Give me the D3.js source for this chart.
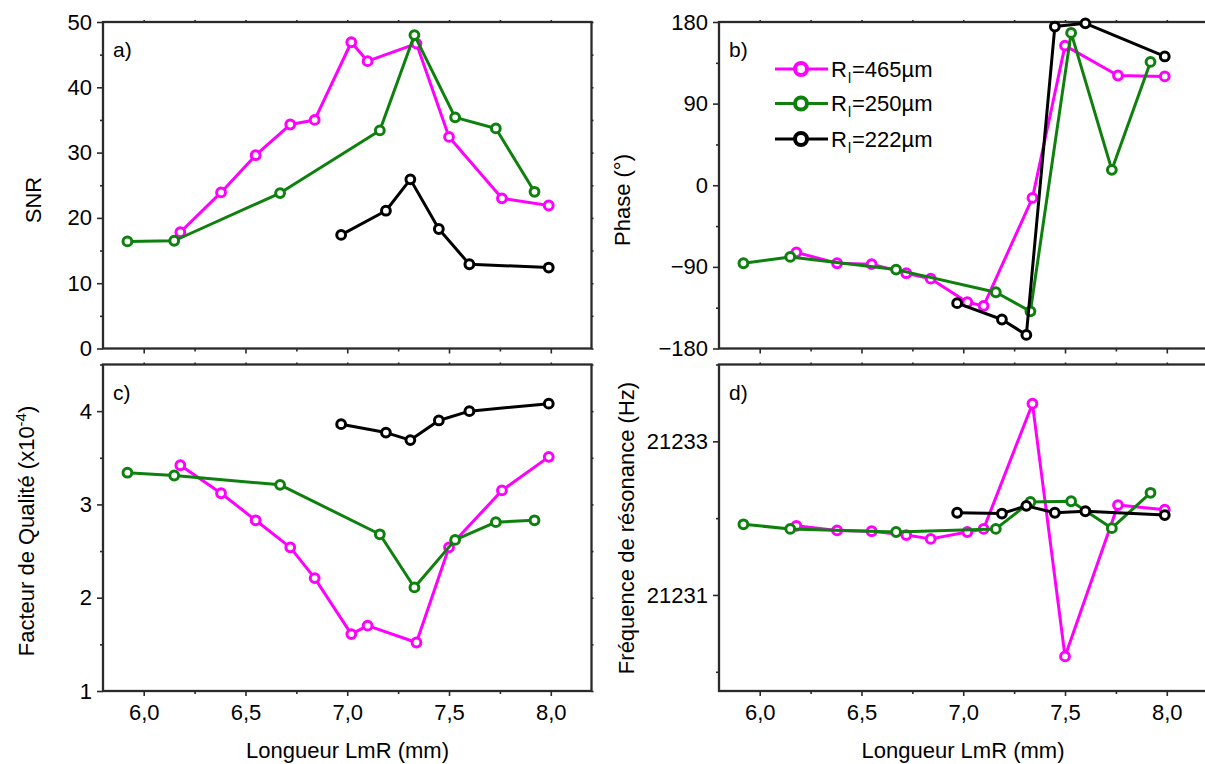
<!DOCTYPE html>
<html><head><meta charset="utf-8">
<script src="https://cdn.jsdelivr.net/npm/d3@7"></script>
<style>
body{margin:0;background:#fff}
svg{display:block}
text{font-family:"Liberation Sans",Arial,Helvetica,sans-serif;fill:#000}
</style>
</head><body>
<svg id="chart" width="1205" height="764"></svg>
<script>
// ---------- data ----------
const seriesRadius = ["465", "250", "222"];
const seriesColors = ["#ff00ff", "#0d800d", "#000000"];
const xTickValues = [6.0, 6.5, 7.0, 7.5, 8.0];
const xTickLabels = ["6,0", "6,5", "7,0", "7,5", "8,0"];
const xMinorTicks = [6.25, 6.75, 7.25, 7.75];

const x465 = [6.18, 6.38, 6.55, 6.72, 6.84, 7.02, 7.10, 7.34, 7.50, 7.76, 7.99];
const x250 = [5.92, 6.15, 6.67, 7.16, 7.33, 7.53, 7.73, 7.92];
const x222 = [6.97, 7.19, 7.31, 7.45, 7.60, 7.99];

const snr465 = [17.8, 23.9, 29.6, 34.3, 35.0, 46.9, 44.0, 46.7, 32.4, 23.0, 21.9];
const snr250 = [16.4, 16.5, 23.8, 33.4, 48.0, 35.4, 33.7, 24.0];
const snr222 = [17.4, 21.1, 25.9, 18.3, 12.9, 12.4];

const phase465 = [-74, -86, -87, -97, -103, -129, -133, -14, 154, 121, 120];
const phase250 = [-86, -79, -93, -118, -139, 168, 17, 136];
const phase222 = [-130, -148, -165, 175, 178.5, 142];

const q465 = [3.42, 3.12, 2.83, 2.54, 2.21, 1.61, 1.70, 1.52, 2.54, 3.15, 3.51];
const q250 = [3.34, 3.31, 3.21, 2.68, 2.11, 2.62, 2.81, 2.83];
const q222 = [3.86, 3.77, 3.69, 3.90, 4.00, 4.08];

const f465 = [21231.90, 21231.84, 21231.83, 21231.78, 21231.73, 21231.82, 21231.86, 21233.49, 21230.20, 21232.17, 21232.11];
const f250 = [21231.92, 21231.86, 21231.82, 21231.86, 21232.21, 21232.22, 21231.87, 21232.33];
const f222 = [21232.07, 21232.06, 21232.16, 21232.07, 21232.09, 21232.04];

const snrTicks = [0, 10, 20, 30, 40, 50];
const snrMinor = [5, 15, 25, 35, 45];
const phaseTicks = [-180, -90, 0, 90, 180];
const phaseMinor = [-135, -45, 45, 135];
const qTicks = [1, 2, 3, 4];
const qMinor = [1.5, 2.5, 3.5, 4.5];
const fTicks = [21231, 21233];
const fMinor = [21230, 21232, 21234];

// ---------- drawing ----------
const svg = d3.select("#chart");
const FONT = 22;
const AX = "#2a2a2a";

function zip(xs, ys) { return xs.map((v, i) => [v, ys[i]]); }

function panel(p) {
  const g = svg.append("g");
  const x = d3.scaleLinear().domain([5.8, 8.2]).range([p.left, p.left + 488.5]);
  const y = d3.scaleLinear().domain(p.yDomain).range([p.bottom, p.top]);

  g.append("g").attr("transform", `translate(0,${p.bottom})`)
    .call(d3.axisBottom(x).tickValues(xTickValues).tickSize(5).tickPadding(8)
      .tickFormat((d, i) => p.xLabels ? xTickLabels[i] : ""));
  g.append("g").attr("transform", `translate(0,${p.bottom})`)
    .call(d3.axisBottom(x).tickValues(xMinorTicks).tickSize(3).tickFormat(""));
  g.append("g").attr("transform", `translate(0,${p.top})`)
    .call(d3.axisTop(x).tickValues(xTickValues.concat(xMinorTicks)).tickSize(2).tickFormat(""));
  g.append("g").attr("transform", `translate(${p.left},0)`)
    .call(d3.axisLeft(y).tickValues(p.yTicks).tickSize(6).tickPadding(5).tickFormat(p.yFormat));
  g.append("g").attr("transform", `translate(${p.left},0)`)
    .call(d3.axisLeft(y).tickValues(p.yMinor).tickSize(3).tickFormat(""));
  g.append("g").attr("transform", `translate(${p.left + 488.5},0)`)
    .call(d3.axisRight(y).tickValues(p.yTicks.concat(p.yMinor)).tickSize(2).tickFormat(""));

  g.selectAll(".domain").remove();
  g.selectAll(".tick line").attr("stroke", AX).attr("stroke-width", 1.6);
  g.selectAll(".tick text").attr("font-size", FONT).attr("fill", "#000")
    .style("font-family", '"Liberation Sans",Arial,sans-serif');

  g.append("rect").attr("x", p.left).attr("y", p.top)
    .attr("width", 488.5).attr("height", p.bottom - p.top)
    .attr("fill", "none").attr("stroke", AX).attr("stroke-width", 2.3);

  const line = d3.line().x(d => x(d[0])).y(d => y(d[1]));
  p.series.forEach((s, i) => {
    const pts = zip(s[0], s[1]);
    g.append("path").datum(pts).attr("d", line)
      .attr("fill", "none").attr("stroke", seriesColors[i]).attr("stroke-width", 3)
      .attr("stroke-linejoin", "round");
    g.selectAll(null).data(pts).enter().append("circle")
      .attr("cx", d => x(d[0])).attr("cy", d => y(d[1])).attr("r", 4.4)
      .attr("fill", "#fff").attr("stroke", seriesColors[i]).attr("stroke-width", 3);
  });

  g.append("text").attr("x", p.left + 10).attr("y", p.top + 35)
    .attr("font-size", 21).text(p.letter);
  return { g, x, y };
}

panel({ left: 103, top: 22, bottom: 348.5, yDomain: [0, 50], yTicks: snrTicks, yMinor: snrMinor,
  yFormat: d3.format("d"), xLabels: false, letter: "a)",
  series: [[x465, snr465], [x250, snr250], [x222, snr222]] });
panel({ left: 719, top: 22, bottom: 348.5, yDomain: [-180, 180], yTicks: phaseTicks, yMinor: phaseMinor,
  yFormat: d3.format("d"), xLabels: false, letter: "b)",
  series: [[x465, phase465], [x250, phase250], [x222, phase222]] });
panel({ left: 103, top: 364.5, bottom: 691, yDomain: [1, 4.5], yTicks: qTicks, yMinor: qMinor,
  yFormat: d3.format("d"), xLabels: true, letter: "c)",
  series: [[x465, q465], [x250, q250], [x222, q222]] });
panel({ left: 719, top: 364.5, bottom: 691, yDomain: [21229.75, 21234], yTicks: fTicks, yMinor: fMinor,
  yFormat: d3.format("d"), xLabels: true, letter: "d)",
  series: [[x465, f465], [x250, f250], [x222, f222]] });

function ytitle(x, y) {
  return svg.append("text").attr("transform", `translate(${x},${y}) rotate(-90)`)
    .attr("text-anchor", "middle").attr("font-size", FONT);
}
ytitle(41, 200).text("SNR");
ytitle(630, 200).text("Phase (°)");
const ft = ytitle(34, 531);
ft.append("tspan").text("Facteur de Qualité (x10");
ft.append("tspan").attr("dy", -8).attr("font-size", 15).text("-4");
ft.append("tspan").attr("dy", 8).text(")");
ytitle(634, 528).text("Fréquence de résonance (Hz)");

svg.append("text").attr("x", 347.5).attr("y", 758).attr("text-anchor", "middle")
  .attr("font-size", FONT).text("Longueur LmR (mm)");
svg.append("text").attr("x", 963).attr("y", 758).attr("text-anchor", "middle")
  .attr("font-size", FONT).text("Longueur LmR (mm)");

const legY = [69, 103.5, 139];
seriesRadius.forEach((r, i) => {
  const lg = svg.append("g");
  lg.append("line").attr("x1", 775).attr("x2", 828).attr("y1", legY[i]).attr("y2", legY[i])
    .attr("stroke", seriesColors[i]).attr("stroke-width", 3);
  lg.append("circle").attr("cx", 801).attr("cy", legY[i]).attr("r", 6)
    .attr("fill", "#fff").attr("stroke", seriesColors[i]).attr("stroke-width", 4);
  const t = lg.append("text").attr("x", 831).attr("y", legY[i] + 7.5).attr("font-size", 22);
  t.append("tspan").text("R");
  t.append("tspan").attr("dy", 6).attr("dx", 1).attr("font-size", 14).text("l");
  t.append("tspan").attr("dy", -6).attr("dx", 1).text("=" + r + "µm");
});
</script>
</body></html>
